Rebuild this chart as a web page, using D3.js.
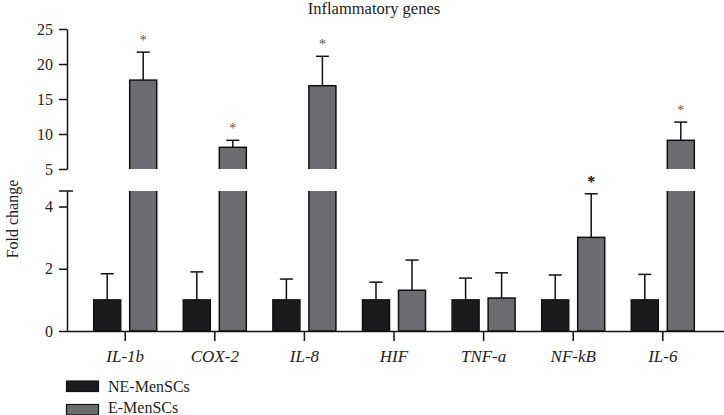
<!DOCTYPE html>
<html><head><meta charset="utf-8">
<script src="https://cdn.jsdelivr.net/npm/d3@7"></script>
<style>body{margin:0;background:#fff}svg{display:block}text{font-family:"Liberation Serif",serif;}</style>
</head><body><svg id="c" width="724" height="415"></svg>
<script>
const categories = ["IL-1b","COX-2","IL-8","HIF","TNF-a","NF-kB","IL-6"];
const seriesNames = ["NE-MenSCs","E-MenSCs"];
const neMean = [1,1,1,1,1,1,1];
const neErr  = [1.84,1.90,1.67,1.57,1.70,1.80,1.82];
const eMean  = [17.7,8.1,16.9,1.31,1.06,3.01,9.1];
const eErr   = [21.7,9.1,21.1,2.28,1.87,4.41,11.7];
const eSig   = [true,true,true,false,false,true,true];
const lowerTicks = [0,2,4];
const upperTicks = [5,10,15,20,25];
const colors = ["#1b1b1d","#6b6b70"];

const svg = d3.select("#c");
const axisX = 67;
const breakLo = 4.5, breakHi = 5;
const x = d3.scaleBand().domain(categories).range([80.4, 707.6]).padding(0);
const xs = d3.scaleBand().domain(seriesNames).range([0, x.bandwidth()]).paddingInner(0.25).paddingOuter(0.369);
const yLow = d3.scaleLinear().domain([0,breakLo]).range([331,191]);
const yUp  = d3.scaleLinear().domain([breakHi,25]).range([169,29]);

const defs = svg.append("defs");
defs.append("clipPath").attr("id","clipLow").append("rect").attr("x",0).attr("y",191).attr("width",724).attr("height",150);
defs.append("clipPath").attr("id","clipUp").append("rect").attr("x",0).attr("y",0).attr("width",724).attr("height",169);

const data = [];
categories.forEach((c,i)=>{
  data.push({c, s:seriesNames[0], v:neMean[i], e:neErr[i], sig:false, col:colors[0]});
  data.push({c, s:seriesNames[1], v:eMean[i], e:eErr[i], sig:eSig[i], col:colors[1]});
});

function drawPanel(y, clipId, lo){
  const g = svg.append("g").attr("clip-path",`url(#${clipId})`);
  data.forEach(d=>{
    const bx = x(d.c)+xs(d.s), bw = xs.bandwidth(), cx = bx+bw/2;
    g.append("line").attr("x1",cx).attr("x2",cx).attr("y1",y(d.v)).attr("y2",y(d.e)).attr("stroke","#111").attr("stroke-width",1.5);
    g.append("line").attr("x1",cx-6.5).attr("x2",cx+6.5).attr("y1",y(d.e)).attr("y2",y(d.e)).attr("stroke","#111").attr("stroke-width",1.5);
    g.append("rect").attr("x",bx).attr("width",bw).attr("y",y(d.v)).attr("height",Math.max(0,y(lo)-y(d.v)+(lo===0?0:40)))
      .attr("fill",d.col).attr("stroke","#111").attr("stroke-width",1.5);
  });
}
drawPanel(yLow,"clipLow",0);
drawPanel(yUp,"clipUp",breakHi);

// significance asterisks (outside clip)
data.filter(d=>d.sig).forEach(d=>{
  const cx = x(d.c)+xs(d.s)+xs.bandwidth()/2;
  const ey = d.e > breakLo ? (d.e >= breakHi ? yUp(d.e) : yLow(breakLo)) : yLow(d.e);
  const strong = d.e < breakLo;
  svg.append("text").attr("x",cx).attr("y",ey-7).attr("text-anchor","middle")
    .attr("font-size",strong?16:14).attr("font-weight",strong?"bold":"normal").attr("fill",strong?"#111":"#555").text("*");
});

// y axes
const gLow = svg.append("g").attr("transform",`translate(${axisX},0)`).call(d3.axisLeft(yLow).tickValues(lowerTicks).tickSize(8).tickSizeOuter(0).tickFormat(d3.format("d")));
const gUp = svg.append("g").attr("transform",`translate(${axisX},0)`).call(d3.axisLeft(yUp).tickValues(upperTicks).tickSize(8).tickSizeOuter(0).tickFormat(d3.format("d")));
[gLow,gUp].forEach(g=>{
  g.select(".domain").attr("stroke","#111").attr("stroke-width",1.5);
  g.selectAll(".tick line").attr("stroke","#111").attr("stroke-width",1.5);
  g.selectAll(".tick text").attr("font-family","Liberation Serif, serif").attr("font-size",16).attr("fill","#222").attr("x",-14);
});
// break cap at top of lower axis
svg.append("line").attr("x1",axisX-8).attr("x2",axisX+6).attr("y1",yLow(breakLo)).attr("y2",yLow(breakLo)).attr("stroke","#111").attr("stroke-width",1.5);

// x axis
const gx = svg.append("g").attr("transform",`translate(0,${yLow(0)})`).call(d3.axisBottom(x).tickSize(10).tickSizeOuter(0));
gx.select(".domain").attr("d",`M${axisX},0.5H724`).attr("stroke","#111").attr("stroke-width",1.5);
gx.selectAll(".tick line").attr("stroke","#111").attr("stroke-width",1.5);
gx.selectAll(".tick text").attr("font-family","Liberation Serif, serif").attr("font-style","italic").attr("font-size",17).attr("fill","#222").attr("dy","1.05em");

// title
svg.append("text").attr("x",374).attr("y",14).attr("text-anchor","middle").attr("font-size",16.5).attr("fill","#222").text("Inflammatory genes");
// y label
svg.append("text").attr("transform","translate(18,219) rotate(-90)").attr("text-anchor","middle").attr("font-size",16).attr("fill","#222").text("Fold change");

// legend
const lg = svg.append("g");
seriesNames.forEach((s,i)=>{
  lg.append("rect").attr("x",66.5).attr("y",381+i*23.5).attr("width",32).attr("height",10.5).attr("fill",colors[i]).attr("stroke","#111").attr("stroke-width",1.2);
  lg.append("text").attr("x",108).attr("y",392+i*20.5).attr("font-size",16).attr("fill","#222").text(s);
});
</script></body></html>
